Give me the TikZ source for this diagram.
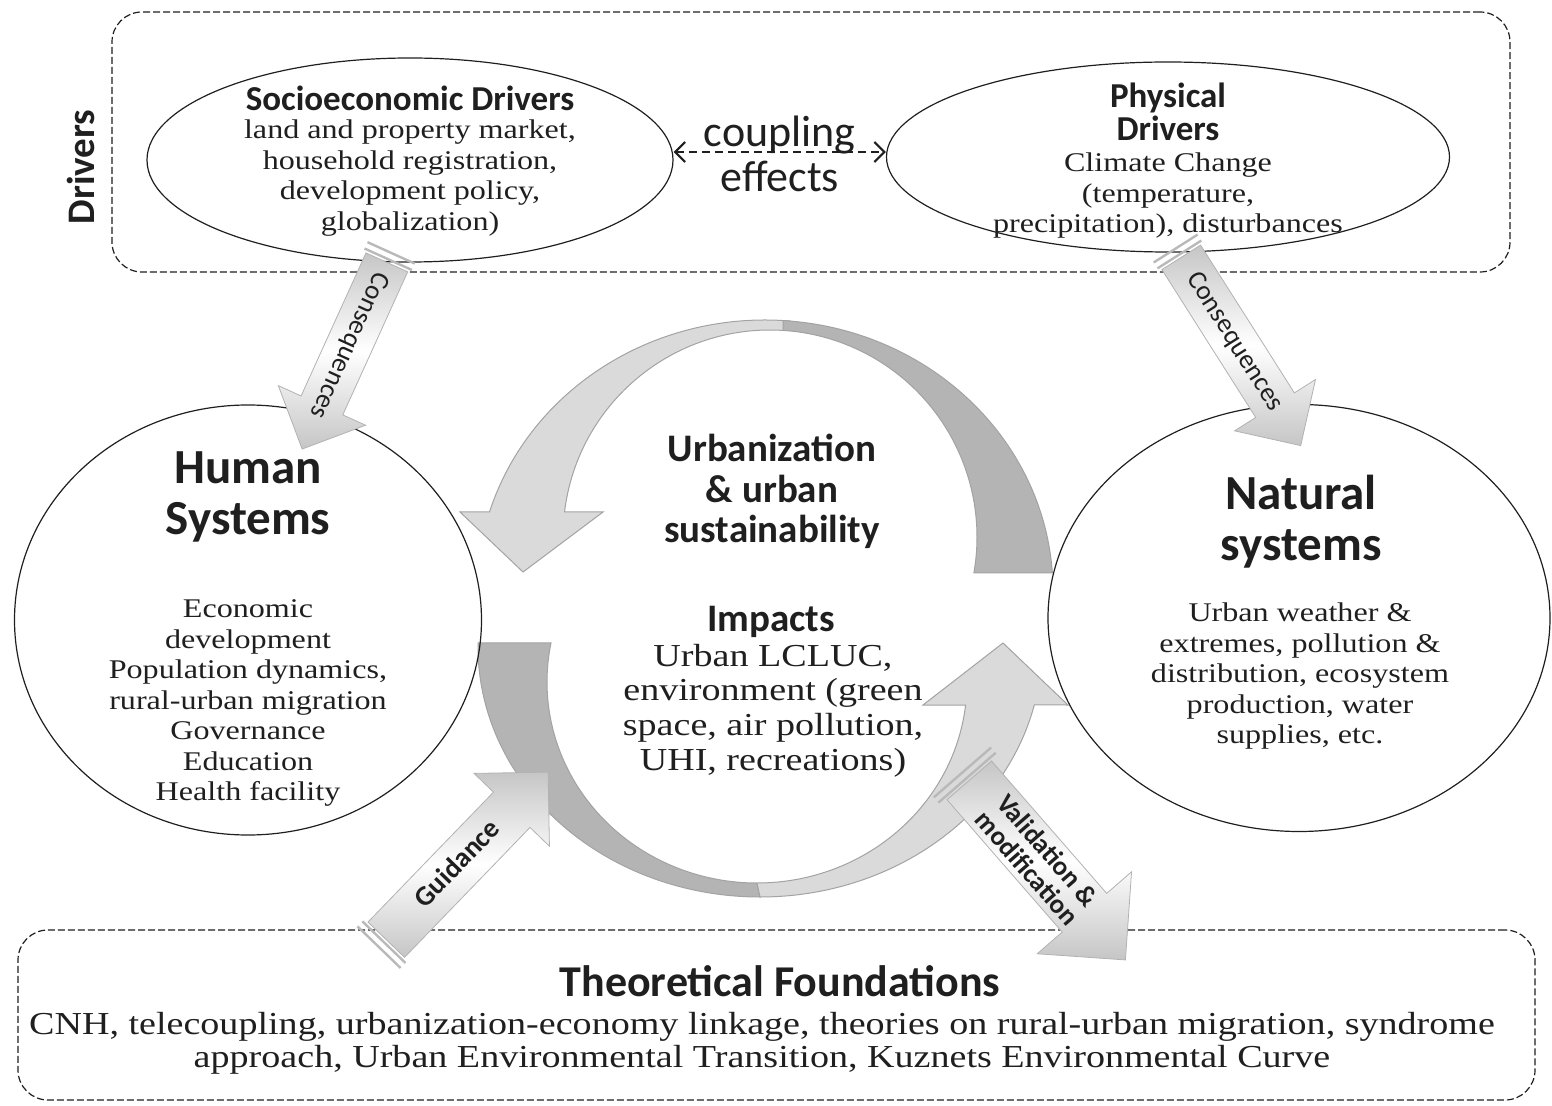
\documentclass[tikz,border=0pt]{standalone}
\usepackage{fontspec}
\setmainfont{Liberation Serif}[FakeStretch=1.19]
\setsansfont{Carlito}
\usetikzlibrary{shapes.geometric,shapes.arrows,arrows.meta}

\definecolor{bandlight}{HTML}{DADADA}
\definecolor{banddark}{HTML}{B4B4B4}
\definecolor{bandedge}{HTML}{A3A3A3}
\definecolor{ink}{HTML}{1F1F1F}

\begin{document}
\begin{tikzpicture}[x=0.5pt,y=-0.5pt,>={Straight Barb[length=5pt,width=10pt]},line width=0.6pt,color=ink,
    frame/.style={draw,dash pattern=on 3.5pt off 1.5pt,rounded corners=15pt},
    oval/.style={ellipse,draw,inner sep=0pt},
    body/.style={align=center,font=\fontsize{13.5}{15.25}\selectfont},
    head/.style={align=center,font=\sffamily\bfseries\fontsize{17.5}{16.5}\selectfont},
    big head/.style={align=center,font=\sffamily\bfseries\fontsize{24.5}{25.75}\selectfont},
    mid head/.style={align=center,font=\sffamily\bfseries\fontsize{19.5}{20.25}\selectfont},
    light band/.style={fill=bandlight,draw=bandedge,line width=0.5pt},
    dark band/.style={fill=banddark,draw=bandedge,line width=0.5pt},
    glossy/.style={single arrow,anchor=tail,draw=gray!60,line width=0.4pt,top color=gray!45,bottom color=gray!45,middle color=white,
        text height=9.5pt,text depth=2.5pt,inner ysep=5.25pt,inner xsep=2pt,single arrow head extend=12.5pt,
        font=\sffamily\fontsize{13.5}{14}\selectfont},
    stripe/.style={draw=gray!55,line width=1.2pt}]

\useasboundingbox (0,0) rectangle (1552,1106);

% frames
\node[frame,minimum width=699pt,minimum height=130pt] (drvbox) at (811,142) {};
\node[frame,minimum width=758.5pt,minimum height=85pt] (thbox) at (776.5,1015) {};
\node[head,rotate=90,font=\sffamily\bfseries\fontsize{19.5}{20}\selectfont] (drivers) at (81,167) {Drivers};

% central loop, upper arrow
\path[light band] ([shift={(765,591)}]-85:288 and 271) arc[start angle=-85,end angle=-163.05,x radius=288,y radius=271]
    -- (460,512) -- (523,572) -- (603,512) -- (564.5,512)
    arc[start angle=-173.06,end angle=-86.4,x radius=207,y radius=207] -- cycle;
\path[dark band] ([shift={(765,591)}]-3.81:288 and 271) arc[start angle=-3.81,end angle=-86.4,x radius=288,y radius=271]
    -- ([shift={(770,537)}]-86.4:207 and 207)
    arc[start angle=-86.4,end angle=10.01,x radius=207,y radius=207] -- cycle;
% central loop, lower arrow
\path[dark band] ([shift={(760,647)}]180.92:282 and 250) arc[start angle=180.92,end angle=90,x radius=282,y radius=250]
    -- ([shift={(757,682)}]90:210 and 201)
    arc[start angle=90,end angle=191.19,x radius=210,y radius=201] -- cycle;
\path[light band] ([shift={(760,647)}]90:282 and 250) arc[start angle=90,end angle=13.41,x radius=282,y radius=250]
    -- (1068,705) -- (1003,643) -- (923,705) -- (965.6,705)
    arc[start angle=6.57,end angle=90,x radius=210,y radius=201] -- cycle;

% drivers
\node[oval,minimum width=263pt,minimum height=102pt] (socio) at (410,160) {};
\node[oval,minimum width=281.5pt,minimum height=95pt] (phys) at (1168,157) {};
\node[head] (sociohead) at (410,98) {Socioeconomic Drivers};
\node[body] (sociotext) at (410,178) {land and property market,\\household registration,\\development policy,\\globalization)};
\node[head] (physhead) at (1168,112) {Physical\\Drivers};
\node[body] (phystext) at (1168,196) {Climate Change\\(temperature,\\precipitation), disturbances};

\draw[<->,dash pattern=on 4pt off 2.5pt,line width=1.1pt] ([yshift=4pt]socio.east) -- ([yshift=2.5pt]phys.west)
    node[midway,above,inner sep=1pt,yshift=-2.5pt,font=\sffamily\fontsize{22}{22}\selectfont] {coupling}
    node[midway,below,inner sep=1pt,yshift=-3pt,font=\sffamily\fontsize{22}{22}\selectfont] {effects};

% systems
\node[oval,minimum width=233.5pt,minimum height=215pt] (human) at (248,620) {};
\node[oval,minimum width=251pt,minimum height=213.5pt] (natural) at (1299,618) {};
\node[big head] (humanhead) at (248,497) {Human\\Systems};
\node[body] (humantext) at (248,703) {Economic\\development\\Population dynamics,\\rural-urban migration\\Governance\\Education\\Health facility};
\node[big head] (naturalhead) at (1301,521.5) {Natural\\systems};
\node[body] (naturaltext) at (1300,676.5) {Urban weather \&\\extremes, pollution \&\\distribution, ecosystem\\production, water\\supplies, etc.};

% centre
\node[mid head] (urbanhead) at (772,491.5) {Urbanization\\\& urban\\sustainability};
\node[mid head] (impacthead) at (771,622) {Impacts};
\node[body,font=\fontsize{16}{17.3}\selectfont] (impacttext) at (773,710.5) {Urban LCLUC,\\environment (green\\space, air pollution,\\UHI, recreations)};

% theory
\node[mid head,font=\sffamily\bfseries\fontsize{22}{22}\selectfont] (theoryhead) at (780,981) {Theoretical Foundations};
\node[body,font=\fontsize{16}{16.5}\selectfont] (theorytext) at (762,1043) {CNH, telecoupling, urbanization-economy linkage, theories on rural-urban migration, syndrome\\approach, Urban Environmental Transition, Kuznets Environmental Curve};

% block arrows
\node[glossy,rotate=-114.4,minimum height=102.5pt] (cons1) at (387,262) {Consequences};
\node[glossy,rotate=-57.6,minimum height=111.5pt] (cons2) at (1181,257) {Consequences};
\node[glossy,rotate=46,minimum height=116.5pt,inner ysep=6.5pt,single arrow head extend=13.5pt,
    font=\sffamily\bfseries\fontsize{14}{14}\selectfont] (guid) at (386,940) {Guidance};
\node[glossy,rotate=-49,minimum height=119pt,align=center,text height=,text depth=,inner ysep=3pt,single arrow head extend=16.5pt,
    font=\sffamily\bfseries\fontsize{13.5}{13.5}\selectfont] (valid) at (969,780) {Validation \&\\modification};
\foreach \n/\a/\h in {cons1/-114.4/13,cons2/-57.6/13,guid/46/15,valid/-49/19}
    \draw[stripe,shift={(\n.tail)},rotate=\a] (-1.5pt,-\h pt) -- (-1.5pt,\h pt) (-5pt,-\h pt) -- (-5pt,\h pt);

\end{tikzpicture}
\end{document}
